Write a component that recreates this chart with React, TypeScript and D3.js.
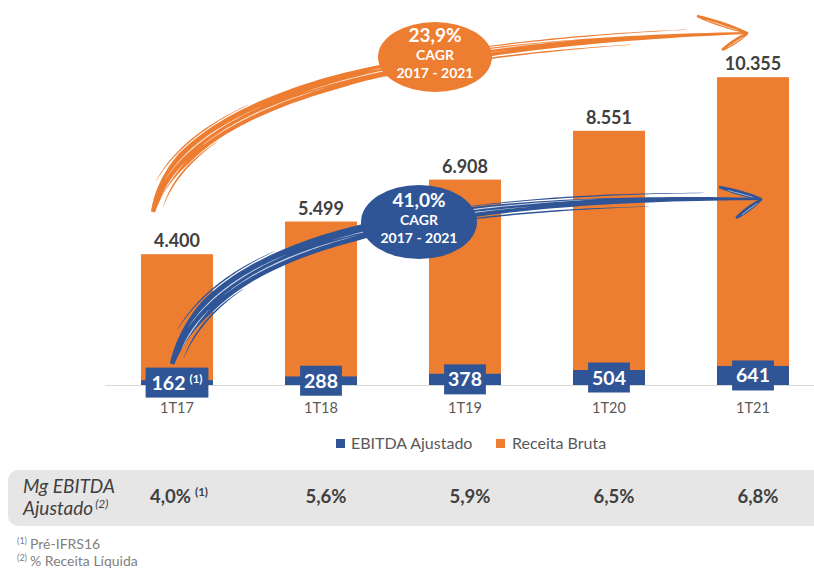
import React from "react";
import * as d3 from "d3";

// ---------- data ----------
const categories = ["1T17", "1T18", "1T19", "1T20", "1T21"];
const receitaBruta = [4400, 5499, 6908, 8551, 10355];
const ebitdaAjustado = [162, 288, 378, 504, 641];
const ebitdaNotes = ["(1)", "", "", "", ""];
const margemLabels = ["4,0%", "5,6%", "5,9%", "6,5%", "6,8%"];
const margemNotes = ["(1)", "", "", "", ""];
const legendLabels = ["EBITDA Ajustado", "Receita Bruta"];
const cagrReceita = ["23,9%", "CAGR", "2017 - 2021"];
const cagrEbitda = ["41,0%", "CAGR", "2017 - 2021"];
const footnoteMarks = ["(1)", "(2)"];
const footnoteTexts = ["Pré-IFRS16", "% Receita Líquida"];
const tableTitle = ["Mg EBITDA", "Ajustado"];
const tableTitleNote = "(2)";

// ---------- styles ----------
const ORANGE = "#ed7d31";
const BLUE = "#2f5597";
const FONT = "Lato, 'Open Sans', sans-serif";

const ptBR = d3.formatLocale({ decimal: ",", thousands: ".", grouping: [3], currency: ["R$", ""] });
const fmt = ptBR.format(",d");

type P = [number, number];

function bez(p: P[], t: number): P {
  const u = 1 - t;
  const a = u * u * u, b = 3 * u * u * t, c = 3 * u * t * t, d = t * t * t;
  return [a * p[0][0] + b * p[1][0] + c * p[2][0] + d * p[3][0], a * p[0][1] + b * p[1][1] + c * p[2][1] + d * p[3][1]];
}
function bezD(p: P[], t: number): P {
  const u = 1 - t;
  const a = 3 * u * u, b = 6 * u * t, c = 3 * t * t;
  return [
    a * (p[1][0] - p[0][0]) + b * (p[2][0] - p[1][0]) + c * (p[3][0] - p[2][0]),
    a * (p[1][1] - p[0][1]) + b * (p[2][1] - p[1][1]) + c * (p[3][1] - p[2][1]),
  ];
}
function normalAt(p: P[], t: number): P {
  const d = bezD(p, t);
  const l = Math.hypot(d[0], d[1]) || 1;
  return [-d[1] / l, d[0] / l];
}
function brushPath(p: P[], wf: (t: number) => number, offset = 0, t0 = 0, t1 = 1, n = 90): string {
  const L: P[] = [], R: P[] = [];
  for (let i = 0; i <= n; i++) {
    const t = t0 + (t1 - t0) * (i / n);
    const pt = bez(p, t);
    const nm = normalAt(p, t);
    const w = wf(t) / 2;
    L.push([pt[0] + nm[0] * (offset + w), pt[1] + nm[1] * (offset + w)]);
    R.push([pt[0] + nm[0] * (offset - w), pt[1] + nm[1] * (offset - w)]);
  }
  R.reverse();
  const f = (q: P) => `${q[0].toFixed(2)},${q[1].toFixed(2)}`;
  return "M" + L.map(f).join("L") + "L" + R.map(f).join("L") + "Z";
}
function line(a: P, b: P): P[] {
  return [a, [a[0] + (b[0] - a[0]) / 3, a[1] + (b[1] - a[1]) / 3], [a[0] + (2 * (b[0] - a[0])) / 3, a[1] + (2 * (b[1] - a[1])) / 3], b];
}

function BrushArrow({ curve, color, wMax, barbs }: { curve: P[]; color: string; wMax: number; barbs: P[] }) {
  const wf = (t: number) =>
    t < 0.2 ? wMax * (0.3 + 0.7 * (t / 0.2)) : t < 0.55 ? wMax : wMax * (1 - 0.85 * ((t - 0.55) / 0.45));
  const tip = curve[3];
  const streaks: [number, number, number][] = [
    [-1.5, 0.12, 0.42],
    [2.5, 0.25, 0.55],
    [0.5, 0.5, 0.78],
    [-2.5, 0.6, 0.85],
    [3.5, 0.05, 0.2],
  ];
  const strands: [number, number, number, number][] = [
    [wMax * 0.6, 0.03, 0.3, 1.4],
    [-wMax * 0.62, 0.1, 0.4, 1.2],
    [wMax * 0.45, 0.62, 0.9, 1.2],
    [-wMax * 0.4, 0.7, 0.95, 1],
  ];
  return (
    <g>
      <path d={brushPath(curve, wf)} fill={color} />
      {strands.map((s, i) => (
        <path key={"s" + i} d={brushPath(curve, (t) => s[3] * Math.sin(Math.PI * ((t - s[1]) / (s[2] - s[1]))) + 0.3, s[0], s[1], s[2], 40)} fill={color} />
      ))}
      {streaks.map((s, i) => (
        <path key={"w" + i} d={brushPath(curve, (t) => 1.1 * Math.sin(Math.PI * ((t - s[1]) / (s[2] - s[1]))) + 0.1, s[0], s[1], s[2], 40)} fill="#fff" opacity={0.75} />
      ))}
      {barbs.map((b, i) => {
        const c = line(b, tip);
        return (
          <g key={"b" + i}>
            <path d={brushPath(c, (t) => 4.5 * Math.pow(Math.sin(Math.PI * (0.1 + 0.85 * t)), 0.7) + 0.4, 0, 0, 1, 30)} fill={color} />
            <path d={brushPath(c, (t) => 0.8 * Math.sin(Math.PI * t), 0.8, 0.2, 0.8, 20)} fill="#fff" opacity={0.7} />
          </g>
        );
      })}
    </g>
  );
}

function CagrBubble({ cx, cy, rx, ry, color, lines }: { cx: number; cy: number; rx: number; ry: number; color: string; lines: string[] }) {
  return (
    <g fontFamily={FONT} fill="#fff" fontWeight={700} textAnchor="middle">
      <ellipse cx={cx} cy={cy} rx={rx} ry={ry} fill={color} />
      <text x={cx} y={cy - 15.5} fontSize={19}>{lines[0]}</text>
      <text x={cx} y={cy + 3} fontSize={14}>{lines[1]}</text>
      <text x={cx} y={cy + 21} fontSize={14}>{lines[2]}</text>
    </g>
  );
}

export default function App() {
  const W = 814, H = 572;
  const x = d3.scaleBand<string>().domain(categories).range([105, 825]).paddingInner(0.5).paddingOuter(0.25);
  const y = d3.scaleLinear().domain([0, 11000]).range([385, 58]);
  const bw = x.bandwidth();
  const cx = (c: string) => (x(c) as number) + bw / 2;

  const orangeCurve: P[] = [[153, 212], [175, 120], [330, 45], [748, 33]];
  const orangeBarbs: P[] = [[697, 16], [722, 50]];
  const blueCurve: P[] = [[172, 364], [205, 260], [360, 195], [762, 199]];
  const blueBarbs: P[] = [[719, 187], [736, 218]];

  return (
    <svg width={W} height={H} style={{ position: "absolute", left: 0, top: 0, background: "#fff" }} fontFamily={FONT}>
      {/* orange revenue bars */}
      {categories.map((c, i) => (
        <rect key={"r" + c} x={x(c)} y={y(receitaBruta[i])} width={bw} height={y(0) - y(receitaBruta[i])} fill={ORANGE} />
      ))}
      {/* blue ebitda bars */}
      {categories.map((c, i) => (
        <rect key={"e" + c} x={x(c)} y={y(ebitdaAjustado[i])} width={bw} height={y(0) - y(ebitdaAjustado[i])} fill={BLUE} />
      ))}
      {/* axis line */}
      <line x1={105} x2={W} y1={y(0) + 0.5} y2={y(0) + 0.5} stroke="#d9d9d9" strokeWidth={1} />
      {/* revenue labels */}
      {categories.map((c, i) => (
        <text key={"rl" + c} x={cx(c)} y={y(receitaBruta[i]) - 7} textAnchor="middle" fontSize={18} fontWeight={700} fill="#404040">
          {fmt(receitaBruta[i])}
        </text>
      ))}
      {/* category labels */}
      {categories.map((c) => (
        <text key={"cl" + c} x={cx(c)} y={413} textAnchor="middle" fontSize={14.5} fill="#595959">
          {c}
        </text>
      ))}

      {/* arrows */}
      <BrushArrow curve={orangeCurve} color={ORANGE} wMax={14} barbs={orangeBarbs} />
      <BrushArrow curve={blueCurve} color={BLUE} wMax={15} barbs={blueBarbs} />
      <CagrBubble cx={435} cy={57} rx={57} ry={35} color={ORANGE} lines={cagrReceita} />
      <CagrBubble cx={419} cy={222} rx={58} ry={37} color={BLUE} lines={cagrEbitda} />

      {/* ebitda label boxes */}
      {categories.map((c, i) => {
        const yc = (y(ebitdaAjustado[i]) + y(0)) / 2;
        const label = fmt(ebitdaAjustado[i]);
        const w = label.length * 10.6 + 10 + (ebitdaNotes[i] ? 21 : 0);
        return (
          <g key={"eb" + c}>
            <rect x={cx(c) - w / 2} y={yc - 15} width={w} height={30} fill={BLUE} />
            <text x={cx(c)} y={yc + 7} textAnchor="middle" fontSize={19.5} fontWeight={700} fill="#fff">
              {label}
              {ebitdaNotes[i] ? (
                <tspan fontSize={11.5} dx={4} dy={-7}>
                  {ebitdaNotes[i]}
                </tspan>
              ) : null}
            </text>
          </g>
        );
      })}

      {/* legend */}
      <g fontSize={16} fill="#595959">
        <rect x={336} y={439} width={9} height={9} fill={BLUE} />
        <text x={351} y={449}>{legendLabels[0]}</text>
        <rect x={496} y={439} width={9} height={9} fill={ORANGE} />
        <text x={512} y={449}>{legendLabels[1]}</text>
      </g>

      {/* margin table */}
      <rect x={8} y={470} width={830} height={56} rx={10} fill="#e6e6e6" />
      <g fontStyle="italic" fontSize={19} fill="#404040">
        <text x={23} y={493}>{tableTitle[0]}</text>
        <text x={23} y={515}>
          {tableTitle[1]}
          <tspan fontSize={12} dx={2} dy={-7}>{tableTitleNote}</tspan>
        </text>
      </g>
      {categories.map((c, i) => (
        <text key={"m" + c} x={cx(c) + (margemNotes[i] ? 2 : 5)} y={503} textAnchor="middle" fontSize={18.5} fontWeight={700} fill="#404040">
          {margemLabels[i]}
          {margemNotes[i] ? (
            <tspan fontSize={11.5} dx={4} dy={-7}>
              {margemNotes[i]}
            </tspan>
          ) : null}
        </text>
      ))}

      {/* footnotes */}
      <g fill="#7f7f7f">
        {footnoteMarks.map((m, i) => (
          <text key={"f" + i} x={17} y={549 + i * 17} fontSize={14}>
            <tspan fontSize={9} dy={-5}>{m}</tspan>
            <tspan dx={3} dy={5}>{footnoteTexts[i]}</tspan>
          </text>
        ))}
      </g>
    </svg>
  );
}
